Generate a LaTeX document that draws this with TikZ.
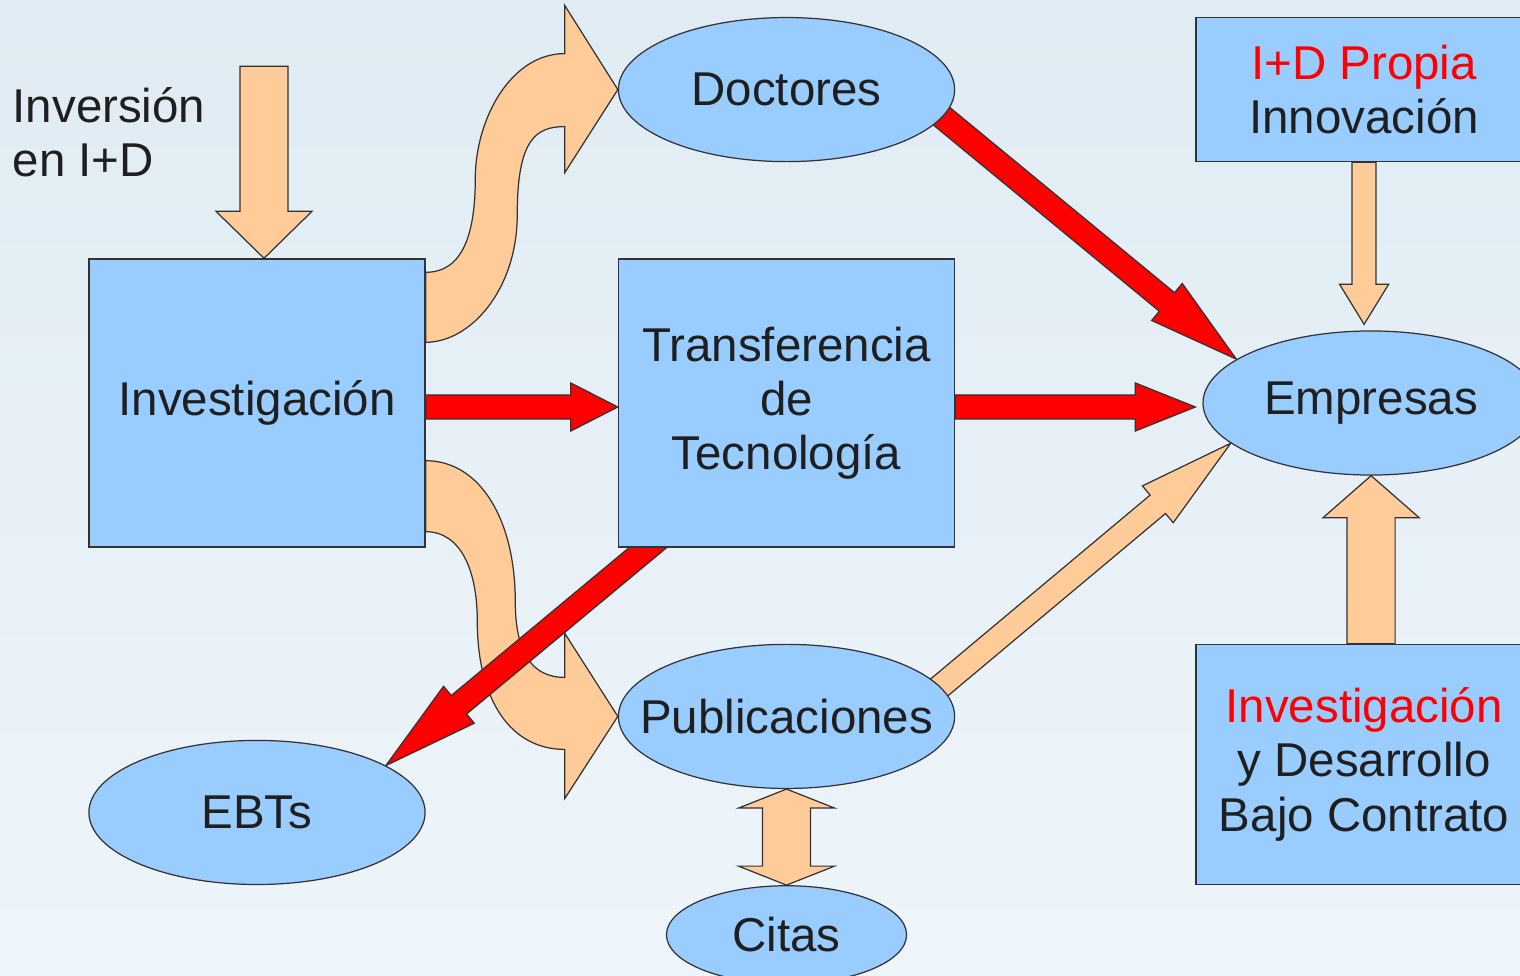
\documentclass[tikz,border=0pt]{standalone}
\usepackage{fontspec}
\setmainfont{Liberation Sans}
\usetikzlibrary{calc}
\usetikzlibrary{positioning}
\usetikzlibrary{shapes.geometric}

\definecolor{boxblue}{HTML}{99CCFF}
\definecolor{peach}{HTML}{FFCC99}
\definecolor{arrred}{HTML}{FF0000}
\definecolor{bgtop}{HTML}{E0EBF3}
\definecolor{bgbot}{HTML}{EEF5FA}

\pgfdeclarelayer{back}
\pgfdeclarelayer{flow}
\pgfsetlayers{back,flow,main}

% style, from, to, shaft half width, head half width, head length
\newcommand{\fatarrow}[6]{
    \coordinate (hb) at ($(#3)!#6!(#2)$);
    \draw[#1] ($(#2)!#4!90:(#3)$) -- ($(hb)!#4!90:(#3)$) -- ($(hb)!#5!90:(#3)$) -- (#3)
        -- ($(hb)!#5!-90:(#3)$) -- ($(hb)!#4!-90:(#3)$) -- ($(#2)!#4!-90:(#3)$) -- cycle;
}
\newcommand{\fatdarrow}[6]{
    \coordinate (ha) at ($(#2)!#6!(#3)$);
    \coordinate (hb) at ($(#3)!#6!(#2)$);
    \draw[#1] (#2) -- ($(ha)!#5!90:(#3)$) -- ($(ha)!#4!90:(#3)$) -- ($(hb)!#4!90:(#3)$) -- ($(hb)!#5!90:(#3)$) -- (#3)
        -- ($(hb)!#5!-90:(#3)$) -- ($(hb)!#4!-90:(#3)$) -- ($(ha)!#4!-90:(#3)$) -- ($(ha)!#5!-90:(#3)$) -- cycle;
}

\begin{document}
\begin{tikzpicture}[x=0.01cm, y=-0.01cm, font=\fontsize{13.5pt}{15.4pt}\selectfont,
    box/.style={rectangle, draw=black!80, line width=0.35pt, fill=boxblue, text=black!88, minimum width=3.36cm, minimum height=2.88cm, inner sep=0pt, align=center},
    bubble/.style={ellipse, draw=black!80, line width=0.35pt, fill=boxblue, text=black!88, minimum width=3.36cm, minimum height=1.44cm, inner sep=0pt},
    redarr/.style={draw=black!80, line width=0.35pt, fill=arrred},
    peacharr/.style={draw=black!80, line width=0.35pt, fill=peach}]
    \useasboundingbox (0,0) rectangle (1520,976);

    \node [box] (inv) at (257,403) {Investigación};
    \node [box, right=1.92cm of inv] (tt) {Transferencia\\de\\Tecnología};
    \node [bubble, above=0.96cm of tt] (doc) {\makebox[0pt]{Doctores}};
    \node [bubble, below=0.96cm of tt] (pub) {\makebox[0pt]{Publicaciones}};
    \node [bubble, minimum width=2.4cm, minimum height=0.98cm, below=0.96cm of pub] (cit) {\makebox[0pt]{Citas}};
    \node [bubble, below=1.92cm of inv] (ebt) {\makebox[0pt]{EBTs}};
    \node [bubble, right=2.47cm of tt] (emp) {\makebox[0pt]{Empresas}};
    \node [box, minimum height=1.44cm, above=1.68cm of emp, xshift=-0.07cm] (prop) {\textcolor{arrred}{I+D Propia}\\Innovación};
    \node [box, minimum height=2.4cm, below=1.68cm of emp, xshift=-0.07cm] (con) {\textcolor{arrred}{Investigación}\\y Desarrollo\\Bajo Contrato};
    \node [align=left, anchor=north west, inner sep=0pt, text=black!88] (inver) at (12,87) {Inversión\\en I+D};

    \begin{pgfonlayer}{back}
        \fill [top color=bgtop, bottom color=bgbot] (0,0) rectangle (1520,976);
    \end{pgfonlayer}

    \begin{pgfonlayer}{flow}
        \coordinate (s1) at ($(inv.north east)+(0,14)$);
        \coordinate (s2) at ($(doc.west)+(-53,-36)$);
        \coordinate (s3) at ($(doc.west)+(-53,37)$);
        \coordinate (s4) at ($(inv.north east)+(0,84)$);
        \draw [peacharr] (s1) .. controls +(37,0) and +(0,55) .. ($(s1)!0.5!(s2)+(-20,16)$)
            .. controls +(0,-60) and +(-54,0) .. (s2) -- ++(0,-48) -- (doc.west) -- ($(s3)+(0,46)$) -- (s3)
            .. controls +(-29,0) and +(0,-75) .. ($(s3)!0.5!(s4)+(22,-20)$)
            .. controls +(0,75) and +(45,0) .. (s4) -- cycle;

        \coordinate (t1) at ($(inv.south east)+(0,-87)$);
        \coordinate (t2) at ($(pub.west)+(-53,-39)$);
        \coordinate (t3) at ($(pub.west)+(-53,33)$);
        \coordinate (t4) at ($(inv.south east)+(0,-16)$);
        \draw [peacharr] (t1) .. controls +(55,0) and +(0,-80) .. ($(t1)!0.5!(t2)+(20,32)$)
            .. controls +(0,50) and +(-34,0) .. (t2) -- ++(0,-44) -- (pub.west) -- ($(t3)+(0,49)$) -- (t3)
            .. controls +(-54,0) and +(0,80) .. ($(t3)!0.5!(t4)+(-18,-20)$)
            .. controls +(0,-50) and +(35,0) .. (t4) -- cycle;

        \coordinate (invsrc) at ($(inv.north)+(7,-192)$);
        \coordinate (invin) at ($(inv.north)+(7,0)$);
        \fatarrow{peacharr}{invsrc}{invin}{0.24cm}{0.48cm}{0.47cm}

        \coordinate (inve) at ($(inv.east)+(0,4)$);
        \coordinate (ttw) at ($(tt.west)+(0,4)$);
        \coordinate (tte) at ($(tt.east)+(0,4)$);
        \coordinate (empw) at ($(emp.west)+(-7,4)$);
        \fatarrow{redarr}{inve}{ttw}{0.12cm}{0.24cm}{0.47cm}
        \fatarrow{redarr}{tte}{empw}{0.12cm}{0.24cm}{0.6cm}

        \coordinate (docout) at ($(doc.-10)!-0.08cm!(emp.162)$);
        \fatarrow{redarr}{docout}{emp.162}{0.12cm}{0.24cm}{0.9cm}

        \coordinate (ttb) at ($(tt.south west)+(42,-10)$);
        \fatarrow{redarr}{ttb}{ebt.20}{0.12cm}{0.24cm}{0.95cm}

        \coordinate (pubout) at ($(pub.11)!-0.08cm!(emp.196)$);
        \fatarrow{peacharr}{pubout}{emp.196}{0.12cm}{0.24cm}{0.95cm}

        \coordinate (empn) at ($(prop.south |- emp.north)+(0,-6)$);
        \fatarrow{peacharr}{prop.south}{empn}{0.12cm}{0.245cm}{0.4cm}

        \coordinate (cons) at (emp.south |- con.north);
        \fatarrow{peacharr}{cons}{emp.south}{0.24cm}{0.48cm}{0.42cm}

        \fatdarrow{peacharr}{pub.south}{cit.north}{0.24cm}{0.48cm}{0.19cm}
    \end{pgfonlayer}
\end{tikzpicture}
\end{document}
